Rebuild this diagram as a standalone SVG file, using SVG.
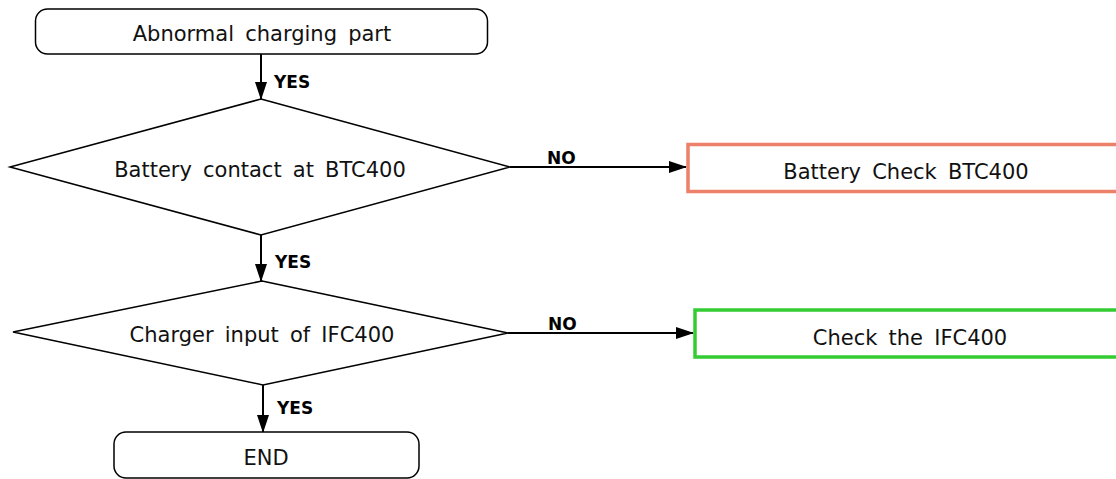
<svg xmlns="http://www.w3.org/2000/svg" width="1116" height="479" viewBox="0 0 1116 479">
<defs>
<style>
.term{fill:#fff;stroke:#000;stroke-width:1.5}
.dec{fill:#fff;stroke:#000;stroke-width:1.5}
.lbl{font-family:"DejaVu Sans",Verdana,sans-serif;font-size:21px;fill:#111;text-anchor:middle;word-spacing:4.5px}
.yn{font-family:"DejaVu Sans",Verdana,sans-serif;font-size:17px;font-weight:bold;fill:#000}
.con{stroke:#000;stroke-width:2;fill:none;marker-end:url(#ah)}
</style>
<marker id="ah" markerWidth="18" markerHeight="12" refX="17" refY="6" orient="auto" markerUnits="userSpaceOnUse">
<path d="M0,0 L18,6 L0,12 Z" fill="#000"/>
</marker>
</defs>
<g id="connectors">
<line class="con" x1="261" y1="54" x2="261" y2="99"/>
<line class="con" x1="261" y1="235" x2="261" y2="281"/>
<line class="con" x1="263" y1="385" x2="263" y2="432"/>
<line class="con" x1="510" y1="167" x2="686" y2="167"/>
<line class="con" x1="508" y1="333" x2="693" y2="333"/>
<text class="yn" x="274" y="88">YES</text>
<text class="yn" x="275" y="268">YES</text>
<text class="yn" x="277" y="414">YES</text>
<text class="yn" x="547" y="164">NO</text>
<text class="yn" x="548" y="330">NO</text>
</g>
<g id="start">
<rect class="term" x="35.5" y="9" width="452" height="45" rx="12"/>
<text class="lbl" x="262" y="41">Abnormal charging part</text>
</g>
<g id="d1">
<polygon class="dec" points="261,99 510,167 261,235 10,167"/>
<text class="lbl" x="260" y="177">Battery contact at BTC400</text>
</g>
<g id="b1">
<rect x="688" y="144.5" width="440" height="47" fill="#fff" stroke="#EC8068" stroke-width="3.5"/>
<text class="lbl" x="906" y="179">Battery Check BTC400</text>
</g>
<g id="d2">
<polygon class="dec" points="262,281 508,333 263,385 13,332"/>
<text class="lbl" x="262" y="342">Charger input of IFC400</text>
</g>
<g id="b2">
<rect x="695" y="310" width="440" height="47" fill="#fff" stroke="#33CC33" stroke-width="3.5"/>
<text class="lbl" x="910" y="345">Check the IFC400</text>
</g>
<g id="end">
<rect class="term" x="114" y="432" width="305" height="46" rx="12"/>
<text class="lbl" x="266" y="465">END</text>
</g>
</svg>
